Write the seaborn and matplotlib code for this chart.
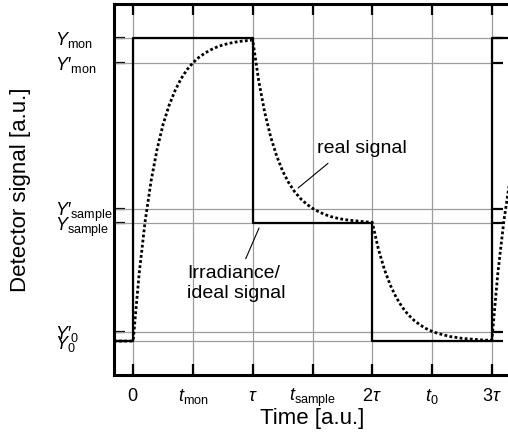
import matplotlib
matplotlib.use("Agg")
import matplotlib.pyplot as plt
import pandas as pd
import seaborn as sns

# ---------------- data ----------------
real_t = [-0.16, 0.00, 0.05, 0.10, 0.15, 0.20, 0.25, 0.30, 0.35, 0.40, 0.45,
          0.50, 0.55, 0.60, 0.65, 0.70, 0.75, 0.80, 0.85, 0.90, 0.95,
          1.00, 1.05, 1.10, 1.15, 1.20, 1.25, 1.30, 1.35, 1.40, 1.45,
          1.50, 1.55, 1.60, 1.65, 1.70, 1.75, 1.80, 1.85, 1.90, 1.95,
          2.00, 2.05, 2.10, 2.15, 2.20, 2.25, 2.30, 2.35, 2.40, 2.45,
          2.50, 2.55, 2.60, 2.65, 2.70, 2.75, 2.80, 2.85, 2.90, 2.95,
          3.00, 3.05, 3.10, 3.15, 3.20]
real_y = [0.000, 0.000, 0.221, 0.394, 0.528, 0.632, 0.714, 0.777, 0.826, 0.865, 0.895,
          0.918, 0.936, 0.950, 0.961, 0.970, 0.977, 0.982, 0.986, 0.989, 0.991,
          0.993, 0.859, 0.755, 0.674, 0.611, 0.561, 0.523, 0.493, 0.470, 0.452,
          0.438, 0.427, 0.418, 0.411, 0.406, 0.402, 0.399, 0.397, 0.395, 0.393,
          0.392, 0.305, 0.238, 0.185, 0.144, 0.112, 0.087, 0.068, 0.053, 0.041,
          0.032, 0.025, 0.020, 0.015, 0.012, 0.009, 0.007, 0.006, 0.004, 0.003,
          0.003, 0.224, 0.395, 0.529, 0.633]

ideal_t = [-0.16, 0.0, 1.0, 2.0, 3.0, 3.16]
ideal_y = [0.0, 1.0, 0.388, 0.0, 1.0, 1.0]

xtick_vals = [0.0, 0.5, 1.0, 1.5, 2.0, 2.5, 3.0]
xtick_labels = [r"$0$", r"$t_{\mathrm{mon}}$", r"$\tau$", r"$t_{\mathrm{sample}}$",
                r"$2\tau$", r"$t_0$", r"$3\tau$"]
ytick_vals = [0.0, 0.031, 0.388, 0.436, 0.918, 1.0]
ytick_labels = ["$Y_0$", "$Y\u2032_0$", r"$Y_{\mathrm{sample}}$", "$Y\u2032_{\\mathrm{sample}}$",
                "$Y\u2032_{\\mathrm{mon}}$", r"$Y_{\mathrm{mon}}$"]

# ---------------- style ----------------
sns.set_theme(style="white")
plt.rcParams["font.family"] = ["Liberation Sans", "DejaVu Sans"]
plt.rcParams["mathtext.fontset"] = "custom"
plt.rcParams["mathtext.rm"] = "Liberation Sans"
plt.rcParams["mathtext.it"] = "Liberation Sans:italic"
plt.rcParams["mathtext.bf"] = "Liberation Sans:bold"

GRID = "#9c9c9c"

fig = plt.figure(figsize=(5.08, 4.38), dpi=100)
ax = fig.add_axes([114 / 508, 1 - 375 / 438, 397 / 508, 371 / 438])

xlim = (-0.16, 3.16)
ax.set_xlim(*xlim)
ax.set_ylim(-0.112, 1.112)

# grid: vertical full height, horizontal up to 3 tau
ax.set_xticks(xtick_vals, xtick_labels)
ax.set_yticks(ytick_vals, ytick_labels)
ax.grid(axis="x", color=GRID, lw=0.9)
ax.grid(axis="y", visible=False)
ax.set_axisbelow(True)
ax.hlines(ytick_vals, xlim[0], xtick_vals[-1], colors=GRID, lw=0.9, zorder=0.8)

df_ideal = pd.DataFrame({"t": ideal_t, "y": ideal_y})
df_real = pd.DataFrame({"t": real_t, "y": real_y})

sns.lineplot(data=df_ideal, x="t", y="y", ax=ax, color="black", lw=1.6,
             drawstyle="steps-post", zorder=3)
sns.lineplot(data=df_real, x="t", y="y", ax=ax, color="black", lw=2.0,
             linestyle=(0, (1, 0.85)), zorder=4)

for s in ax.spines.values():
    s.set_linewidth(2.2)
    s.set_color("black")

ax.tick_params(axis="x", which="major", direction="in", length=8, width=1.6,
               top=True, bottom=True, labelsize=13, pad=19, colors="black")
ax.tick_params(axis="y", which="major", direction="in", length=8, width=1.6,
               left=True, right=False, labelsize=13, pad=42.5, colors="black")
plt.setp(ax.get_xticklabels(), va="baseline")
plt.setp(ax.get_yticklabels(), ha="left")

# short ticks continuing after 3 tau
sec = ax.secondary_yaxis(xtick_vals[-1], transform=ax.transData)
sec.set_yticks(ytick_vals, labels=[""] * len(ytick_vals))
sec.tick_params(direction="out", length=8, width=1.6, colors="black",
                labelleft=False, labelright=False)
for s in sec.spines.values():
    s.set_visible(False)

ax.annotate("real signal", xy=(1.38, 0.505), xytext=(1.915, 0.634),
            ha="center", va="center", fontsize=14, color="black",
            arrowprops=dict(arrowstyle="-", color="black", lw=0.8,
                            relpos=(0.2, 0.0), shrinkA=3, shrinkB=0))
ax.annotate("Irradiance/\nideal signal", xy=(1.053, 0.373), xytext=(0.451, 0.191),
            ha="left", va="center", fontsize=14, color="black", linespacing=1.25,
            arrowprops=dict(arrowstyle="-", color="black", lw=0.8,
                            relpos=(0.57, 1.0), shrinkA=2, shrinkB=0))

ax.set_xlabel("Time [a.u.]", fontsize=16, color="black")
ax.set_ylabel("Detector signal [a.u.]", fontsize=16, color="black")
ax.xaxis.set_label_coords(0.5, -0.089)
ax.yaxis.set_label_coords(-0.21, 0.5)

fig.savefig("out.png", dpi=100)
